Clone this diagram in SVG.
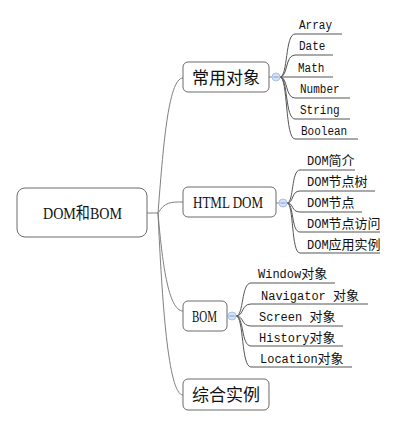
<svg xmlns="http://www.w3.org/2000/svg" width="406" height="427" viewBox="0 0 406 427">
<style>
.box{fill:#fff;stroke:#6b6b6b;stroke-width:1}
.con{fill:none;stroke:#808080;stroke-width:1}
.ul{fill:none;stroke:#555;stroke-width:1}
.t{font-family:"Liberation Serif","Noto Sans CJK SC",serif;fill:#111}
.big{font-size:17px}
.leaf{fill:#111;font-size:12px;font-family:"Liberation Mono","Noto Sans CJK SC",monospace}
.cjk{font-family:"Noto Sans CJK SC",sans-serif;font-size:13px}
.tog{fill:#d3e2f6;stroke:#a9c1e6;stroke-width:1}
.minus{stroke:#7f9fcf;stroke-width:1}
</style>
<rect width="406" height="427" fill="#fff"/>
<g id="connectors">
<path class="con" d="M147,213 L158,213"/>
<path class="con" d="M158,213 C163,150 168,78 183,78"/>
<path class="con" d="M158,213 C165,202 170,202 183,202"/>
<path class="con" d="M158,213 C162,260 168,311 183,311"/>
<path class="con" d="M158,213 C162,300 168,395 183,395"/>
<path class="con" d="M269,77 L272,77"/>
<path class="con" d="M276,203 L279,203"/>
<path class="con" d="M227,316 L228,316"/>
<path class="ul" d="M280,77 C288,77 285,34 295,34 L342,34"/>
<path class="ul" d="M280,77 C288,77 285,55 295,55 L333,55"/>
<path class="ul" d="M280,77 L333,77"/>
<path class="ul" d="M280,77 C288,77 285,98 295,98 L350,98"/>
<path class="ul" d="M280,77 C288,77 285,119 295,119 L350,119"/>
<path class="ul" d="M280,77 C288,77 285,139 295,139 L358,139"/>
<path class="ul" d="M287,203 C294,203 291,170 300,170 L355,170"/>
<path class="ul" d="M287,203 C294,203 291,191 300,191 L375,191"/>
<path class="ul" d="M287,203 C294,203 291,212 300,212 L362,212"/>
<path class="ul" d="M287,203 C294,203 291,232 300,232 L380,232"/>
<path class="ul" d="M287,203 C294,203 291,253 300,253 L380,253"/>
<path class="ul" d="M236,316 C244,316 241,283 251,283 L335,283"/>
<path class="ul" d="M236,316 C244,316 241,304 251,304 L368,304"/>
<path class="ul" d="M236,316 C244,316 241,326 251,326 L343,326"/>
<path class="ul" d="M236,316 C244,316 241,346 251,346 L343,346"/>
<path class="ul" d="M236,316 C244,316 241,367 251,367 L352,367"/>
</g>
<g id="root">
<rect class="box" x="17" y="188" width="130" height="49" rx="8"/>
<text class="t" x="43" y="219" font-size="17" textLength="79" lengthAdjust="spacingAndGlyphs">DOM和BOM</text>
</g>
<g id="n-changyong">
<rect class="box" x="183" y="62" width="86" height="30" rx="5"/>
<text class="t big" x="192" y="84" textLength="68" lengthAdjust="spacing">常用对象</text>
<circle class="tog" cx="276" cy="77" r="4"/>
<line class="minus" x1="273.5" y1="77" x2="278.5" y2="77"/>
</g>
<g id="n-htmldom">
<rect class="box" x="183" y="187" width="93" height="30" rx="5"/>
<text class="t big" x="193" y="208" textLength="70" lengthAdjust="spacingAndGlyphs">HTML DOM</text>
<circle class="tog" cx="283" cy="203" r="4"/>
<line class="minus" x1="280.5" y1="203" x2="285.5" y2="203"/>
</g>
<g id="n-bom">
<rect class="box" x="183" y="301" width="44" height="30" rx="5"/>
<text class="t big" x="192" y="322" textLength="25" lengthAdjust="spacingAndGlyphs">BOM</text>
<circle class="tog" cx="232" cy="316" r="4"/>
<line class="minus" x1="229.5" y1="316" x2="234.5" y2="316"/>
</g>
<g id="n-zonghe">
<rect class="box" x="183" y="379" width="86" height="31" rx="5"/>
<text class="t big" x="192" y="401" textLength="68" lengthAdjust="spacing">综合实例</text>
</g>
<g id="leaf-array"><text class="leaf" x="299" y="29" textLength="33" lengthAdjust="spacingAndGlyphs">Array</text></g>
<g id="leaf-date"><text class="leaf" x="299" y="50" textLength="26.4" lengthAdjust="spacingAndGlyphs">Date</text></g>
<g id="leaf-math"><text class="leaf" x="298" y="72" textLength="26.4" lengthAdjust="spacingAndGlyphs">Math</text></g>
<g id="leaf-number"><text class="leaf" x="300" y="93" textLength="39.6" lengthAdjust="spacingAndGlyphs">Number</text></g>
<g id="leaf-string"><text class="leaf" x="300" y="114" textLength="39.6" lengthAdjust="spacingAndGlyphs">String</text></g>
<g id="leaf-boolean"><text class="leaf" x="301" y="135" textLength="46.2" lengthAdjust="spacingAndGlyphs">Boolean</text></g>
<g id="leaf-dom1"><text class="leaf" x="307" y="165">DOM<tspan class="cjk">简介</tspan></text></g>
<g id="leaf-dom2"><text class="leaf" x="307" y="186">DOM<tspan class="cjk">节点树</tspan></text></g>
<g id="leaf-dom3"><text class="leaf" x="307" y="207">DOM<tspan class="cjk">节点</tspan></text></g>
<g id="leaf-dom4"><text class="leaf" x="307" y="228">DOM<tspan class="cjk">节点访问</tspan></text></g>
<g id="leaf-dom5"><text class="leaf" x="307" y="249">DOM<tspan class="cjk">应用实例</tspan></text></g>
<g id="leaf-window"><text class="leaf" x="258" y="278">Window<tspan class="cjk">对象</tspan></text></g>
<g id="leaf-navigator"><text class="leaf" x="261" y="300">Navigator <tspan class="cjk">对象</tspan></text></g>
<g id="leaf-screen"><text class="leaf" x="259" y="321">Screen <tspan class="cjk">对象</tspan></text></g>
<g id="leaf-history"><text class="leaf" x="259" y="342">History<tspan class="cjk">对象</tspan></text></g>
<g id="leaf-location"><text class="leaf" x="260" y="363">Location<tspan class="cjk">对象</tspan></text></g>
</svg>
